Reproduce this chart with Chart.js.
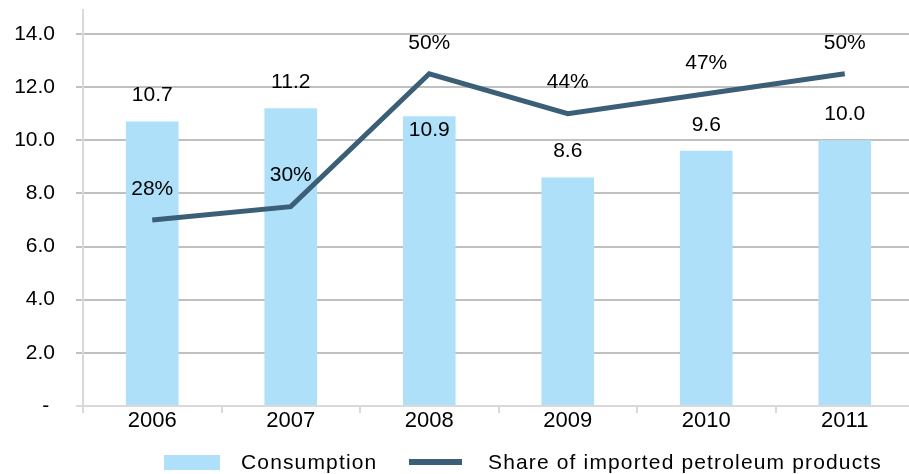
<!DOCTYPE html>
<html>
<head>
<meta charset="utf-8">
<script src="https://cdn.jsdelivr.net/npm/chart.js@4.4.1/dist/chart.umd.min.js"></script>
<style>
    body { margin: 0; background: #fff; overflow: hidden; }
    #wrap { position: relative; width: 920px; height: 474px; }
    .legend {
        position: absolute; top: 450px; height: 24px;
        font: 21px "Liberation Sans", Arial, sans-serif; letter-spacing: 1.15px;
        line-height: 24px; color: #000; white-space: nowrap;
    }
    .swatch { position: absolute; }
</style>
</head>
<body>
<div id="wrap">
    <canvas id="chart"></canvas>
    <div class="swatch" style="left:164px; top:455px; width:56px; height:15px; background:#aee0f9;"></div>
    <div class="legend" style="left:241px;">Consumption</div>
    <div class="swatch" style="left:409px; top:459px; width:53px; height:6px; background:#3b5f77;"></div>
    <div class="legend" style="left:488px;">Share of imported petroleum products</div>
</div>
<script>
// chart data
const years = ['2006', '2007', '2008', '2009', '2010', '2011'];
const consumption = [10.7, 11.2, 10.9, 8.6, 9.6, 10.0];
const importShare = [28, 30, 50, 44, 47, 50];   // %
const yTicks = [0, 2, 4, 6, 8, 10, 12, 14];

const BAR_COLOR = '#aee0f9';
const LINE_COLOR = '#3b5f77';
const FONT = '"Liberation Sans", Arial, sans-serif';

// draws the value labels above bars and line points
const valueLabels = {
    id: 'valueLabels',
    afterDatasetsDraw(chart) {
        const ctx = chart.ctx;
        const bars = chart.getDatasetMeta(0).data;
        const pts = chart.getDatasetMeta(1).data;
        ctx.save();
        ctx.font = '21px ' + FONT;
        ctx.fillStyle = '#000';
        ctx.textAlign = 'center';
        ctx.textBaseline = 'middle';
        bars.forEach((bar, i) => {
            let y = bar.y - 26;
            // label would sit on the line -> move it inside the bar
            if (Math.abs(y - pts[i].y) < 24) y = bar.y + 14;
            ctx.fillText(consumption[i].toFixed(1), bar.x, y);
        });
        pts.forEach((pt, i) => {
            ctx.fillText(importShare[i] + '%', pt.x, pt.y - 31);
        });
        ctx.restore();
    }
};

Chart.defaults.font.family = FONT;
Chart.defaults.color = '#000';

new Chart(document.getElementById('chart'), {
    data: {
        labels: years,
        datasets: [
            {
                type: 'bar',
                label: 'Consumption',
                data: consumption,
                backgroundColor: BAR_COLOR,
                barPercentage: 0.38,
                categoryPercentage: 1,
                order: 1
            },
            {
                type: 'line',
                label: 'Share of imported petroleum products',
                data: importShare,
                yAxisID: 'y1',
                borderColor: LINE_COLOR,
                borderWidth: 5,
                pointRadius: 0,
                tension: 0,
                order: 0
            }
        ]
    },
    options: {
        responsive: true,
        maintainAspectRatio: false,
        animation: false,
        layout: { padding: { top: 10, right: 6, bottom: 0, left: 0 } },
        plugins: {
            legend: { display: false },
            tooltip: { enabled: false }
        },
        scales: {
            x: {
                grid: { drawOnChartArea: false, color: '#d9d9d9', lineWidth: 2, tickLength: 7, offset: true },
                border: { color: '#d9d9d9', width: 2 },
                ticks: { font: { size: 22 }, padding: -5 },
                afterFit: s => { s.height = 68; }
            },
            y: {
                min: 0,
                max: 14.9,
                afterBuildTicks: s => { s.ticks = yTicks.map(v => ({ value: v })); },
                ticks: {
                    font: { size: 21 },
                    padding: 21,
                    callback: v => v === 0 ? '- ' : v.toFixed(1)
                },
                grid: {
                    color: c => (c.tick && c.tick.value === 0) ? '#d9d9d9' : '#c0c0c0',
                    lineWidth: 2,
                    tickLength: 7
                },
                border: { color: '#d9d9d9', width: 2 },
                afterFit: s => { s.width = 83; s.paddingTop = 0; s.paddingBottom = 0; }
            },
            y1: {
                display: false,
                min: 0,
                max: 59.6
            }
        }
    },
    plugins: [valueLabels]
});
</script>
</body>
</html>
